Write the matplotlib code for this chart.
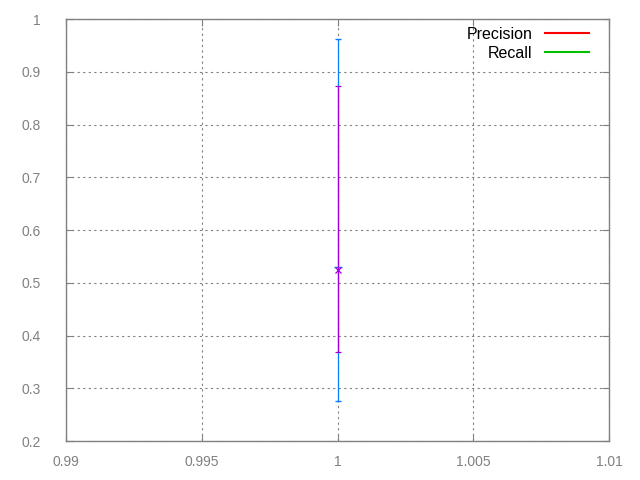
import matplotlib.pyplot as plt
from matplotlib.lines import Line2D

# one measurement point, mean with min/max range
x = [1.0]
precision_mean = [0.524]
precision_low = [0.369]
precision_high = [0.874]
recall_mean = [0.531]
recall_low = [0.277]
recall_high = [0.963]

plt.rcParams["font.family"] = ["Liberation Sans", "DejaVu Sans"]

fig = plt.figure(figsize=(6.4, 4.8), dpi=100)
ax = fig.add_axes([0.103, 0.081, 0.849, 0.879])

gray = "#808080"

rec_err = [[m - l for m, l in zip(recall_mean, recall_low)],
           [h - m for m, h in zip(recall_mean, recall_high)]]
prec_err = [[m - l for m, l in zip(precision_mean, precision_low)],
            [h - m for m, h in zip(precision_mean, precision_high)]]

ax.errorbar(x, recall_mean, yerr=rec_err, fmt="_", color="#0a7cff",
            ecolor="#0a7cff", elinewidth=0.9, capsize=2.2, capthick=0.9,
            markersize=6, markeredgewidth=1.0, zorder=3)
ax.errorbar(x, precision_mean, yerr=prec_err, fmt="x", color="#a000e0",
            ecolor="#a000e0", elinewidth=0.9, capsize=2.2, capthick=0.9,
            markersize=4.5, markeredgewidth=0.9, zorder=4)

ax.set_xlim(0.99, 1.01)
ax.set_ylim(0.2, 1.0)
ax.set_xticks([0.99, 0.995, 1.0, 1.005, 1.01])
ax.set_xticklabels(["0.99", "0.995", "1", "1.005", "1.01"])
ax.set_yticks([0.2, 0.3, 0.4, 0.5, 0.6, 0.7, 0.8, 0.9, 1.0])
ax.set_yticklabels(["0.2", "0.3", "0.4", "0.5", "0.6", "0.7", "0.8", "0.9", "1"])

ax.grid(True, color=gray, linestyle=(0, (2, 3)), linewidth=0.8)
for s in ax.spines.values():
    s.set_color(gray)
    s.set_linewidth(1.0)
ax.tick_params(direction="in", length=5, color=gray, labelcolor=gray,
               labelsize=10, top=True, right=True)
ax.tick_params(axis="y", pad=18)
ax.tick_params(axis="x", pad=10)

handles = [Line2D([], [], color="#ff0000", linewidth=1.5),
           Line2D([], [], color="#00c000", linewidth=1.5)]
leg = ax.legend(handles, ["Precision", "Recall"], loc="upper right",
                bbox_to_anchor=(0.98, 1.005), frameon=False,
                markerfirst=False, fontsize=11.5, handlelength=2.75,
                handletextpad=0.8, borderaxespad=0.2, labelspacing=0.25)
for t in leg.get_texts():
    t.set_ha("right")

fig.savefig("out.png", dpi=100)
